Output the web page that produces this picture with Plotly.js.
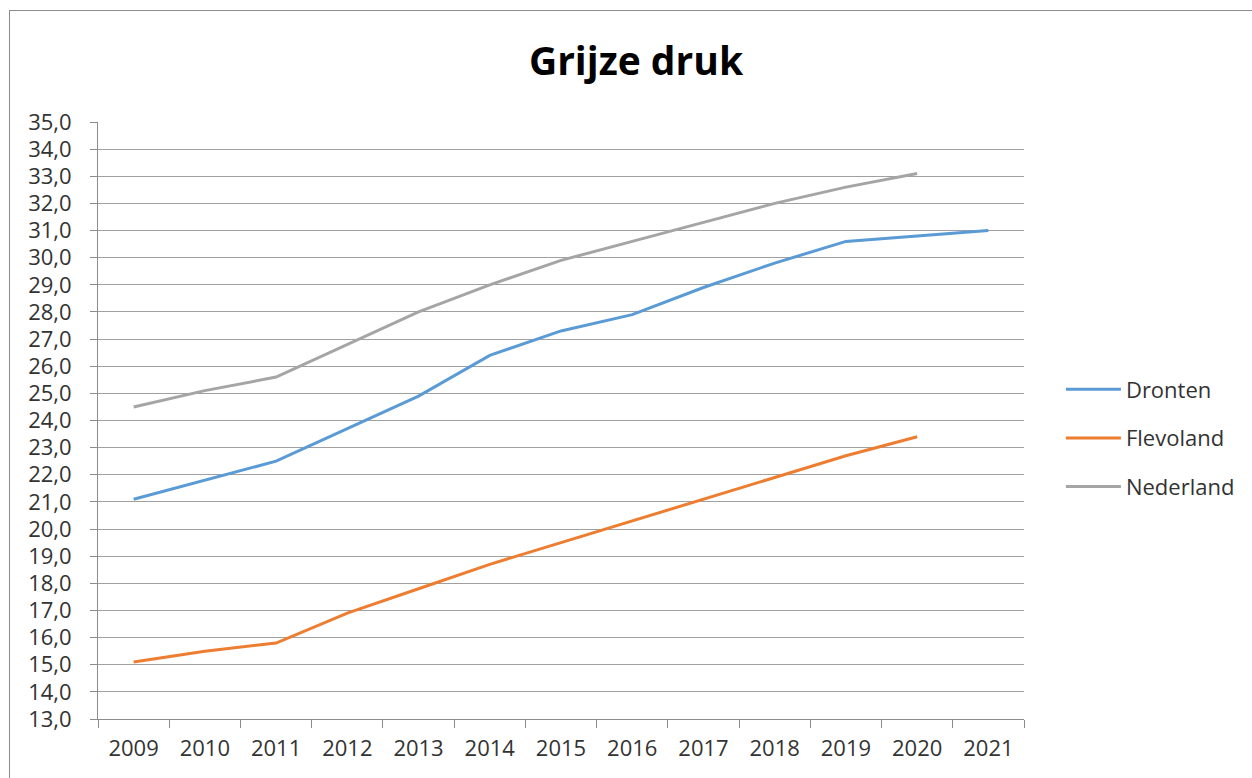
<!DOCTYPE html>
<html>
<head>
<meta charset="utf-8">
<script src="https://cdn.plot.ly/plotly-3.0.1.min.js"></script>
<style>
  html, body { margin: 0; padding: 0; background: #ffffff; overflow: hidden; }
  #wrap { position: relative; width: 1252px; height: 778px; }
  #chart { width: 1252px; height: 778px; }
  #frame { position: absolute; left: 9px; top: 10px; width: 1300px; height: 800px;
           border: 1.5px solid #8c8c8c; pointer-events: none; box-sizing: border-box; }
</style>
</head>
<body>
<div id="wrap">
  <div id="chart"></div>
  <div id="frame"></div>
</div>
<script>
const years = ['2009','2010','2011','2012','2013','2014','2015','2016','2017','2018','2019','2020','2021'];
const dronten    = [21.1, 21.8, 22.5, 23.7, 24.9, 26.4, 27.3, 27.9, 28.9, 29.8, 30.6, 30.8, 31.0];
const flevoland  = [15.1, 15.5, 15.8, 16.9, 17.8, 18.7, 19.5, 20.3, 21.1, 21.9, 22.7, 23.4, null];
const nederland  = [24.5, 25.1, 25.6, 26.8, 28.0, 29.0, 29.9, 30.6, 31.3, 32.0, 32.6, 33.1, null];
const seriesNames = ['Dronten', 'Flevoland', 'Nederland'];
const seriesColors = ['#5B9BD5', '#ED7D31', '#A5A5A5'];
const seriesData = [dronten, flevoland, nederland];

const FONT = '"Open Sans", "Noto Sans", sans-serif';

const traces = seriesData.map((vals, i) => ({
  type: 'scatter',
  mode: 'lines',
  name: seriesNames[i],
  x: years,
  y: vals,
  connectgaps: false,
  legendgroup: seriesNames[i],
  line: { color: seriesColors[i], width: 3 },
  hoverinfo: 'x+y+name'
}));

const layout = {
  width: 1252,
  height: 778,
  paper_bgcolor: '#ffffff',
  plot_bgcolor: '#ffffff',
  separators: ',.',
  font: { family: FONT, size: 22, color: '#333333' },
  margin: { l: 98, r: 226, t: 122, b: 59, pad: 0 },
  title: {
    text: '<b>Grijze druk</b>',
    font: { family: FONT, size: 39, color: '#000000' },
    xref: 'container', x: 636 / 1252, xanchor: 'center',
    yref: 'container', y: 1 - 61 / 778, yanchor: 'middle'
  },
  xaxis: {
    type: 'category',
    categoryorder: 'array',
    categoryarray: years,
    range: [-0.5, years.length - 0.5],
    tickson: 'boundaries',
    ticks: 'outside',
    ticklen: 8,
    tickcolor: '#8c8c8c',
    tickwidth: 1,
    showline: true,
    linecolor: '#8c8c8c',
    linewidth: 1,
    showgrid: false,
    zeroline: false,
    ticklabelstandoff: 10,
    tickfont: { family: FONT, size: 22, color: '#333333' },
    fixedrange: true
  },
  yaxis: {
    range: [13, 35],
    dtick: 1,
    tick0: 13,
    tickformat: '.1f',
    ticks: 'outside',
    ticklen: 7,
    tickcolor: '#8c8c8c',
    tickwidth: 1,
    showline: true,
    linecolor: '#8c8c8c',
    linewidth: 1,
    showgrid: true,
    gridcolor: '#a0a0a0',
    gridwidth: 1,
    zeroline: false,
    ticklabelstandoff: 14,
    tickfont: { family: FONT, size: 22, color: '#333333' },
    fixedrange: true
  },
  showlegend: true,
  legend: {
    x: (1063 - 98) / 928,
    xanchor: 'left',
    y: (719 - 438) / 597,
    yanchor: 'middle',
    font: { family: FONT, size: 22, color: '#333333' },
    bgcolor: 'rgba(0,0,0,0)',
    borderwidth: 0,
    itemwidth: 55,
    tracegroupgap: 17,
    traceorder: 'grouped'
  }
};

Plotly.newPlot('chart', traces, layout, { displayModeBar: false, staticPlot: false });
</script>
</body>
</html>
